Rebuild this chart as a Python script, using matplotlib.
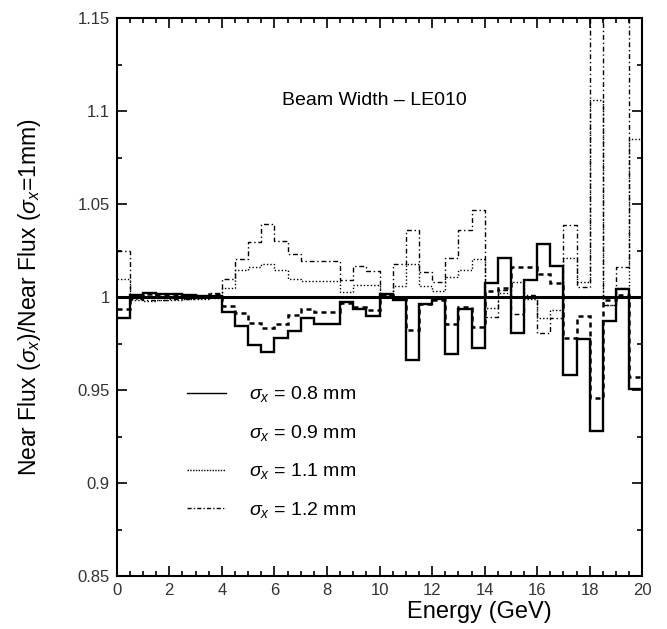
import numpy as np
import matplotlib
matplotlib.use("Agg")
import matplotlib.pyplot as plt
from matplotlib.lines import Line2D
from matplotlib.ticker import MultipleLocator

plt.rcParams['font.family'] = ['Liberation Sans', 'DejaVu Sans']
plt.rcParams['mathtext.fontset'] = 'custom'
plt.rcParams['mathtext.rm'] = 'Liberation Sans'
plt.rcParams['mathtext.it'] = 'Liberation Sans:italic'

# energy bins (GeV), 0.5 GeV wide
edges = np.arange(0, 20.5, 0.5)

# ratio Near Flux(sigma_x) / Near Flux(sigma_x = 1 mm)
r08 = [0.989, 1.001, 1.0025, 1.0018, 1.0018, 1.0013, 1.0008, 1.0005,
       0.992, 0.9846, 0.9742, 0.9703, 0.9778, 0.9819, 0.9889, 0.9855,
       0.9858, 0.9972, 0.9935, 0.9898, 1.0015, 0.9984, 0.9665, 0.9966,
       0.9988, 0.9692, 0.9934, 0.9728, 1.0075, 1.0213, 0.981, 1.009,
       1.0285, 1.0167, 0.958, 0.9773, 0.928, 0.987, 1.0045, 0.9504]
r09 = [0.9935, 1.0, 1.0015, 1.0012, 1.001, 1.0008, 1.0005, 1.0015,
       0.9952, 0.9916, 0.9862, 0.9835, 0.9858, 0.9903, 0.9934, 0.9918,
       0.9918, 0.997, 0.9948, 0.993, 1.0012, 0.9988, 0.9823, 0.9966,
       0.9984, 0.9858, 0.995, 0.984, 1.0036, 1.005, 1.016, 1.016,
       1.0124, 1.0077, 0.9778, 0.990, 0.946, 0.9987, 1.001, 0.957]
r11 = [1.0097, 0.9985, 0.998, 0.9985, 0.9985, 0.999, 0.9992, 0.9995,
       1.0047, 1.0145, 1.016, 1.018, 1.0145, 1.010, 1.0088, 1.0088,
       1.0088, 1.003, 1.0068, 1.0068, 1.0005, 1.006, 1.018, 1.006,
       1.0034, 1.011, 1.0145, 1.0208, 0.9943, 1.002, 1.008, 0.999,
       0.989, 0.993, 1.021, 1.008, 1.106, 0.996, 1.005, 1.085]
r12 = [1.025, 0.999, 0.9985, 0.9985, 0.999, 0.9992, 0.9995, 1.002,
       1.0098, 1.0204, 1.0297, 1.0396, 1.030, 1.0231, 1.0194, 1.0194,
       1.0194, 1.009, 1.017, 1.014, 1.001, 1.018, 1.036, 1.0136,
       1.008, 1.021, 1.0364, 1.047, 0.9894, 1.004, 0.9907, 1.001,
       0.981, 0.989, 1.039, 1.0055, 1.25, 0.9957, 1.016, 1.25]

labels = [r"$\sigma_x$ = 0.8 mm", r"$\sigma_x$ = 0.9 mm",
          r"$\sigma_x$ = 1.1 mm", r"$\sigma_x$ = 1.2 mm"]
yticks = [0.85, 0.9, 0.95, 1.0, 1.05, 1.1, 1.15]
yticklabels = ["0.85", "0.9", "0.95", "1", "1.05", "1.1", "1.15"]
xticks = list(range(0, 21, 2))

fig = plt.figure(figsize=(6.67, 6.29), dpi=100)
ax = fig.add_axes([0.175, 0.084, 0.788, 0.887])

ax.axhline(1.0, color="black", lw=2.2, zorder=5)

ax.stairs(r08, edges, baseline=None, color="black", lw=1.7)
ax.stairs(r09, edges, baseline=None, color="black", lw=1.8, linestyle=(0, (2.0, 1.6)))
ax.stairs(r11, edges, baseline=None, color="black", lw=1.0, linestyle=(0, (1, 1.5)))
ax.stairs(r12, edges, baseline=None, color="black", lw=1.0, linestyle=(0, (3.5, 2, 1, 2)))

ax.set_xlim(0, 20)
ax.set_ylim(0.85, 1.15)
ax.set_xticks(xticks)
ax.set_yticks(yticks)
ax.set_yticklabels(yticklabels)
ax.xaxis.set_minor_locator(MultipleLocator(0.5))
ax.yaxis.set_minor_locator(MultipleLocator(0.025))
ax.tick_params(which="both", direction="in", top=True, right=True,
               labelsize=12, width=1.2, labelcolor="#333333")
ax.tick_params(which="major", length=7.5, pad=5)
ax.tick_params(which="minor", length=3.5)
for sp in ax.spines.values():
    sp.set_linewidth(1.5)

ax.set_xlabel("Energy (GeV)", fontsize=17)
ax.xaxis.set_label_coords(0.69, -0.045)
ax.set_ylabel(r"Near Flux ($\sigma_x$)/Near Flux ($\sigma_x$=1mm)", fontsize=16.5)
ax.yaxis.set_label_coords(-0.14, 0.5)

ax.text(0.49, 0.853, "Beam Width \u2013 LE010", transform=ax.transAxes,
        ha="center", va="center", fontsize=14)

handles = [
    Line2D([], [], color="black", lw=1.0),
    Line2D([], [], color="black", lw=1.0, linestyle="None"),
    Line2D([], [], color="black", lw=1.0, linestyle=(0, (1, 1))),
    Line2D([], [], color="black", lw=1.0, linestyle=(0, (3, 1.5, 1, 1.5))),
]
leg = ax.legend(handles, labels, loc="upper left", bbox_to_anchor=(0.1, 0.375),
                frameon=False, fontsize=14, handlelength=2.0,
                handletextpad=1.2, labelspacing=0.95)

fig.savefig("out.png", dpi=100, facecolor="white")
